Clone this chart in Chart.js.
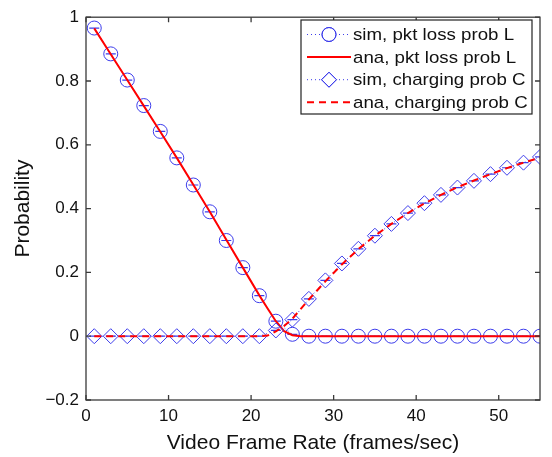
<!DOCTYPE html>
<html>
<head>
<meta charset="utf-8">
<script src="https://cdn.jsdelivr.net/npm/chart.js@4"></script>
<style>
  html, body { margin: 0; padding: 0; background: #fff; }
  #wrap { width: 552px; height: 457px; }
</style>
</head>
<body>
<div id="wrap"><canvas id="chart" width="552" height="457"></canvas></div>
<script>
// x positions of the simulation points (odd frame rates)
const simX = [1, 3, 5, 7, 9, 11, 13, 15, 17, 19, 21, 23, 25, 27, 29, 31, 33, 35, 37, 39, 41, 43, 45, 47, 49, 51, 53, 55];
const simLoss = [0.966, 0.885, 0.803, 0.723, 0.642, 0.559, 0.474, 0.39, 0.3, 0.215, 0.127, 0.047, 0.006,
  0, 0, 0, 0, 0, 0, 0, 0, 0, 0, 0, 0, 0, 0, 0];
const simCharge = [0, 0, 0, 0, 0, 0, 0, 0, 0, 0, 0, 0.018, 0.052, 0.117, 0.175, 0.228, 0.274, 0.315,
  0.352, 0.386, 0.417, 0.443, 0.466, 0.487, 0.508, 0.528, 0.544, 0.562];

// analytic curves
const anaX = [1, 3, 5, 7, 9, 11, 13, 15, 17, 19, 21, 22, 23, 24, 25, 26, 27, 29, 31, 33, 35, 37, 39, 41, 43, 45, 47, 49, 51, 53, 55];
const anaLoss = [0.965, 0.884, 0.803, 0.722, 0.641, 0.559, 0.475, 0.39, 0.302, 0.215, 0.128, 0.087, 0.047, 0.016, 0.003, 0,
  0, 0, 0, 0, 0, 0, 0, 0, 0, 0, 0, 0, 0, 0, 0];
const anaCharge = [0, 0, 0, 0, 0, 0, 0, 0, 0, 0, 0, 0.002, 0.015, 0.032, 0.055, 0.085, 0.115, 0.172, 0.225, 0.273,
  0.315, 0.352, 0.386, 0.416, 0.443, 0.467, 0.488, 0.508, 0.527, 0.544, 0.56];

const xTicks = [0, 10, 20, 30, 40, 50];
const yTicks = [-0.2, 0, 0.2, 0.4, 0.6, 0.8, 1];

const legendLabels = ["sim, pkt loss prob L", "ana, pkt loss prob L", "sim, charging prob C", "ana, charging prob C"];

const BLUE = "rgb(60, 60, 235)";
const RED = "#ff0000";
const FONT = "Liberation Sans, Arial, Helvetica, sans-serif";

function pts(xs, ys) {
  return xs.map((x, i) => ({ x: x, y: ys[i] }));
}

// MATLAB style box, inward ticks and legend
const frame = {
  id: "frame",
  afterDraw(chart) {
    const ctx = chart.ctx;
    const a = chart.chartArea;
    const xs = chart.scales.x;
    const ys = chart.scales.y;
    ctx.save();
    ctx.strokeStyle = "#3a3a3a";
    ctx.lineWidth = 1.3;
    ctx.strokeRect(a.left, a.top, a.right - a.left, a.bottom - a.top);
    ctx.beginPath();
    xTicks.forEach((v) => {
      const px = xs.getPixelForValue(v);
      ctx.moveTo(px, a.bottom); ctx.lineTo(px, a.bottom - 5);
      ctx.moveTo(px, a.top); ctx.lineTo(px, a.top + 5);
    });
    yTicks.forEach((v) => {
      const py = ys.getPixelForValue(v);
      ctx.moveTo(a.left, py); ctx.lineTo(a.left + 5, py);
      ctx.moveTo(a.right, py); ctx.lineTo(a.right - 5, py);
    });
    ctx.stroke();

    // legend
    const lx = 301, ly = 20, lw = 231, lh = 94;
    ctx.fillStyle = "#fff";
    ctx.fillRect(lx, ly, lw, lh);
    ctx.strokeStyle = "#222";
    ctx.lineWidth = 1.2;
    ctx.strokeRect(lx, ly, lw, lh);
    ctx.font = "17px " + FONT;
    ctx.textBaseline = "middle";
    const items = chart.data.datasets.filter((d) => d.inLegend);
    items.forEach((d, i) => {
      const cy = ly + 14.5 + i * 22.6;
      ctx.beginPath();
      ctx.strokeStyle = d.borderColor;
      ctx.lineWidth = d.borderWidth;
      ctx.setLineDash(d.borderDash || []);
      ctx.moveTo(lx + 6, cy); ctx.lineTo(lx + 50, cy);
      ctx.stroke();
      ctx.setLineDash([]);
      if (d.pointRadius > 0) {
        ctx.fillStyle = "#fff";
        Chart.helpers.drawPoint(ctx, { pointStyle: d.pointStyle, radius: d.pointRadius, borderWidth: 1 }, lx + 28, cy);
        ctx.strokeStyle = d.pointBorderColor;
        ctx.lineWidth = 1;
        ctx.stroke();
      }
      // text is a little wider than Arial in the original
      ctx.save();
      ctx.translate(lx + 52, cy + 1);
      ctx.scale(1.1, 1);
      ctx.fillStyle = "#111";
      ctx.fillText(legendLabels[i], 0, 0);
      ctx.restore();
    });
    ctx.restore();
  },
};

new Chart(document.getElementById("chart").getContext("2d"), {
  type: "scatter",
  data: {
    datasets: [
      {
        label: legendLabels[0], inLegend: true,
        data: pts(simX, simLoss), showLine: true,
        borderColor: BLUE, borderWidth: 1, borderDash: [1, 3],
        pointStyle: "circle", pointRadius: 7, pointBorderColor: BLUE,
        pointBackgroundColor: "rgba(0,0,0,0)", pointBorderWidth: 1, order: 4,
      },
      {
        label: legendLabels[1], inLegend: true,
        data: pts(anaX, anaLoss), showLine: true,
        borderColor: RED, borderWidth: 2, pointRadius: 0, order: 3,
      },
      {
        label: legendLabels[2], inLegend: true,
        data: pts(simX, simCharge), showLine: true,
        borderColor: BLUE, borderWidth: 1, borderDash: [1, 3],
        pointStyle: "rectRot", pointRadius: 7.5, pointBorderColor: BLUE,
        pointBackgroundColor: "rgba(0,0,0,0)", pointBorderWidth: 1, order: 2,
      },
      {
        label: legendLabels[3], inLegend: true,
        data: pts(anaX, anaCharge), showLine: true,
        borderColor: RED, borderWidth: 2, borderDash: [7, 5], pointRadius: 0, order: 1,
      },
      // small caps drawn inside the simulation markers
      {
        label: "capL", data: pts(simX, simLoss), showLine: false,
        pointStyle: "line", pointRadius: 5, pointBorderColor: BLUE, pointBorderWidth: 1.2, order: 5,
      },
      {
        label: "capC", data: pts(simX, simCharge), showLine: false,
        pointStyle: "line", pointRadius: 5, pointBorderColor: BLUE, pointBorderWidth: 1.2, order: 5,
      },
    ],
  },
  options: {
    responsive: false,
    animation: false,
    layout: { padding: { left: 0, right: 12, top: 14, bottom: 0 } },
    plugins: { legend: { display: false }, tooltip: { enabled: false } },
    scales: {
      x: {
        type: "linear", min: 0, max: 55,
        afterBuildTicks: (s) => { s.ticks = xTicks.map((v) => ({ value: v })); },
        afterFit: (s) => { s.height = 57; },
        grid: { display: false, drawTicks: false, tickLength: 0 }, border: { display: false },
        ticks: { color: "#111", font: { family: FONT, size: 17 }, padding: 6, maxRotation: 0 },
        title: {
          display: true, text: "Video Frame Rate (frames/sec)", color: "#111",
          font: { family: FONT, size: 21 }, padding: { top: 0, bottom: 1 },
        },
      },
      y: {
        type: "linear", min: -0.2, max: 1,
        afterBuildTicks: (s) => { s.ticks = yTicks.map((v) => ({ value: v })); },
        afterFit: (s) => { s.width = 86; },
        grid: { display: false, drawTicks: false, tickLength: 0 }, border: { display: false },
        ticks: {
          color: "#111", font: { family: FONT, size: 17 }, padding: 7,
          callback: (v) => { const r = Math.round(v * 10) / 10; return r < 0 ? "\u2212" + Math.abs(r) : String(r); },
        },
        title: {
          display: true, text: "Probability", color: "#111",
          font: { family: FONT, size: 21 }, padding: { top: 11, bottom: 0 },
        },
      },
    },
  },
  plugins: [frame],
});
</script>
</body>
</html>
